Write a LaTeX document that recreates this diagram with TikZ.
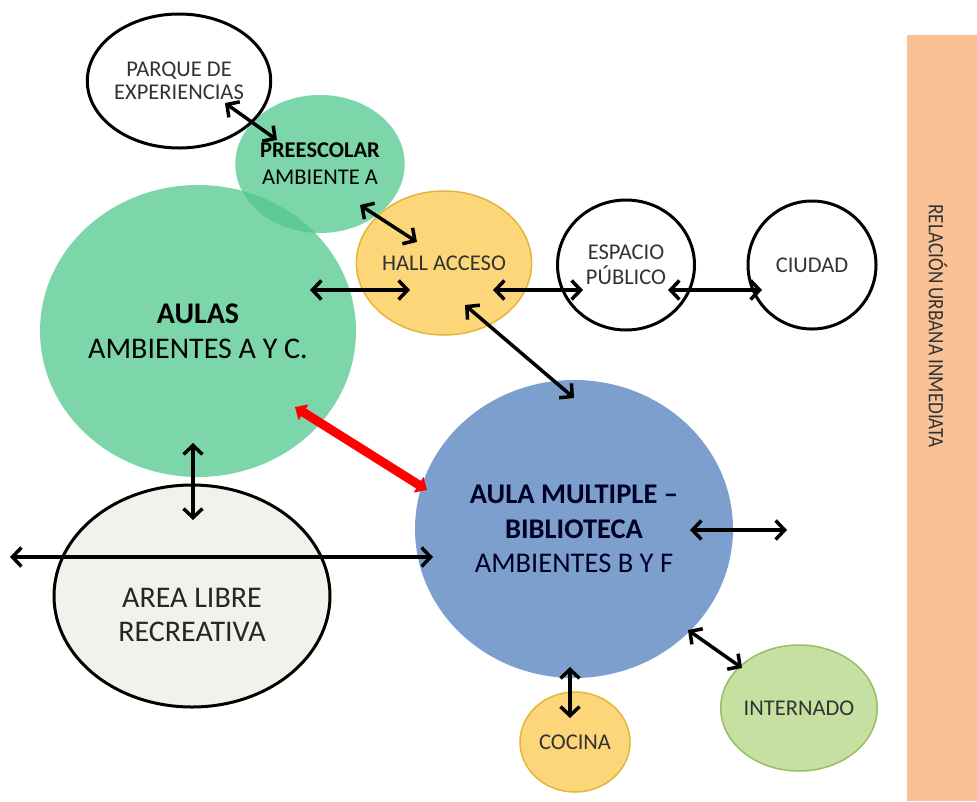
\documentclass[tikz,border=0pt]{standalone}
\usepackage{fontspec}
\setmainfont{Carlito}
\usetikzlibrary{arrows.meta,shapes.geometric}

\definecolor{verde}{RGB}{80,200,140}
\definecolor{amarillo}{RGB}{252,214,120}
\definecolor{amarilloB}{RGB}{228,180,60}
\definecolor{azul}{RGB}{124,159,206}
\definecolor{verdeclaro}{RGB}{197,224,160}
\definecolor{verdeclaroB}{RGB}{150,190,100}
\definecolor{crema}{RGB}{242,241,236}
\definecolor{naranja}{RGB}{249,194,150}
\definecolor{gris}{RGB}{50,50,50}

\tikzset{
  flecha/.style={draw=black,line width=3.5pt},
  flecharoja/.style={draw=red,line width=9pt,>={Triangle[length=10pt,width=18pt]}}
}

\begin{document}
\begin{tikzpicture}[x=1pt,y=-1pt]
\useasboundingbox (0,0) rectangle (977,801);
\fill[naranja] (907,35) rectangle (977,801);
\node[rotate=-90,text=gris,font=\fontsize{22}{24}\selectfont] (REL) at (938,326) {\scalebox{0.87}[1]{RELACIÓN URBANA INMEDIATA}};

\begin{scope}[every node/.style={ellipse,inner sep=0pt,align=center,text=gris,font=\fontsize{22.5}{27}\selectfont}]
\node[fill=verde,fill opacity=0.75,text opacity=1,text=black,minimum width=316pt,minimum height=292pt,font=\fontsize{30}{35}\selectfont] (AUL) at (198,331) {\textbf{AULAS}\\AMBIENTES A Y C.};
\node[fill=verde,fill opacity=0.75,text opacity=1,text=black,minimum width=156pt,minimum height=138pt] (PRE) at (320,164) {\textbf{PREESCOLAR}\\AMBIENTE A};
\node[draw,line width=3pt,minimum width=168pt,minimum height=134pt,font=\fontsize{22.5}{23}\selectfont] (PQ) at (179,81) {PARQUE DE\\EXPERIENCIAS};
\node[fill=amarillo,draw=amarilloB,line width=1.5pt,minimum width=138pt,minimum height=144pt] (HAL) at (444,263) {HALL ACCESO};
\node[draw,line width=3pt,minimum width=137pt,minimum height=130pt,font=\fontsize{22.5}{25}\selectfont] (ESP) at (626,265) {ESPACIO\\PÚBLICO};
\node[draw,line width=3pt,minimum width=128pt,minimum height=128pt] (CIU) at (812,265) {CIUDAD};
\node[fill=azul,minimum width=318pt,minimum height=298pt,text=black!85!blue,font=\fontsize{28.5}{34.5}\selectfont] (AMB) at (574,529) {\textbf{AULA MULTIPLE --}\\\textbf{BIBLIOTECA}\\AMBIENTES B Y F};
\node[fill=crema,draw,line width=3pt,minimum width=276pt,minimum height=222pt,
  label={[yshift=-19pt,text=black!85,font=\fontsize{30}{34}\selectfont]center:AREA LIBRE\\RECREATIVA}] (ARE) at (192,596) {};
\node[fill=amarillo,draw=amarilloB,line width=1.5pt,minimum width=110pt,minimum height=100pt] (COC) at (575,742) {COCINA};
\node[fill=verdeclaro,draw=verdeclaroB,line width=1.5pt,minimum width=142pt,minimum height=126pt] (INT) at (799,708) {INTERNADO};
\end{scope}

% extremos de las flechas
\coordinate (pq1) at (225,103);  \coordinate (pre1) at (277,140);
\coordinate (pre2) at (360,205); \coordinate (hal1) at (417,242);
\coordinate (aul1) at (310,290); \coordinate (hal2) at (410,290);
\coordinate (hal3) at (493,290); \coordinate (esp1) at (583,290);
\coordinate (esp2) at (668,290); \coordinate (ciu1) at (762,290);
\coordinate (hal4) at (465,305); \coordinate (amb1) at (574,398);
\coordinate (aul2) at (193,443); \coordinate (are1) at (193,520);
\coordinate (izq) at (10,557);   \coordinate (amb2) at (433,557);
\coordinate (aul3) at (295,407); \coordinate (amb3) at (427,490);
\coordinate (amb4) at (690,530); \coordinate (der) at (787,530);
\coordinate (amb5) at (688,630); \coordinate (int1) at (742,668);
\coordinate (amb6) at (570,667); \coordinate (coc1) at (570,718);

\begin{scope}[>={Straight Barb[length=9pt,width=19pt]},
every edge/.style={flecha}]
\path [<->] (pq1) edge (pre1);
\path [<->] (pre2) edge (hal1);
\path [<->] (aul1) edge (hal2);
\path [<->] (hal3) edge (esp1);
\path [<->] (esp2) edge (ciu1);
\path [<->] (hal4) edge (amb1);
\path [<->] (aul2) edge (are1);
\path [<->] (izq) edge (amb2);
\path [<->] (amb4) edge (der);
\path [<->] (amb5) edge (int1);
\path [<->] (amb6) edge (coc1);
\path [<->] (aul3) edge[flecharoja] (amb3);
\end{scope}
\end{tikzpicture}
\end{document}
